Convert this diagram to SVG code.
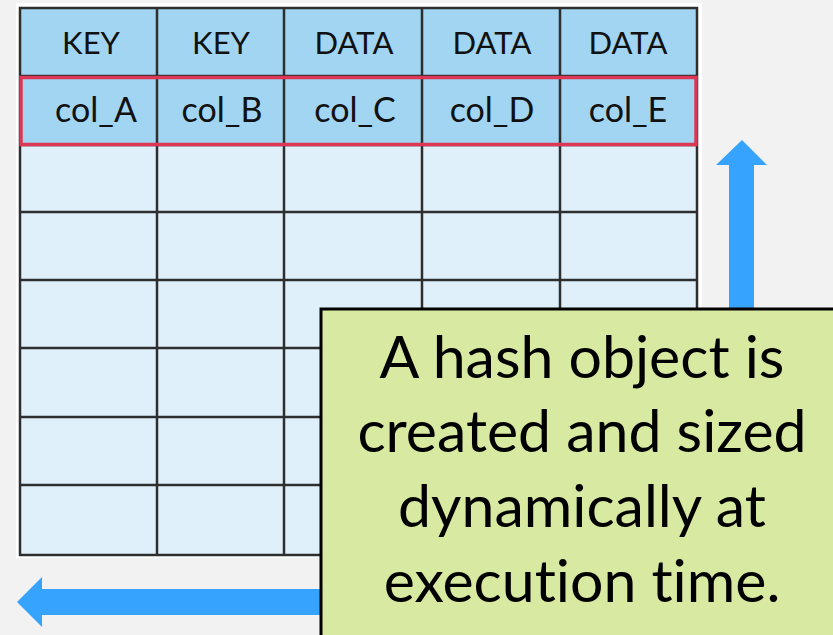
<svg xmlns="http://www.w3.org/2000/svg" width="833" height="635" viewBox="0 0 833 635">
<style>
.grid{stroke:#2e2e2e;stroke-width:2.5;fill:none}
.hd{fill:#a1d5f1}
.bd{fill:#dff0fa}
.t{font-family:Lato,"Liberation Sans",sans-serif;font-size:31px;fill:#111;text-anchor:middle;font-variant-ligatures:none}
.c{font-size:34px}
.n{font-family:Lato,"Liberation Sans",sans-serif;font-size:59px;fill:#000;text-anchor:middle;font-variant-ligatures:none}
.arr{fill:#36a3ff}
</style>
<rect width="833" height="635" fill="#f2f2f2"/>
<rect x="16" y="3" width="686" height="555" fill="#fff"/>
<g id="connectors">
<polygon class="arr" points="742,140 767,165 754,165 754,320 729,320 729,165 716,165"/>
<polygon class="arr" points="17,602 42,577 42,589 330,589 330,615 42,615 42,627"/>
</g>
<g id="table">
<rect class="hd" x="20" y="8" width="677" height="137"/>
<rect class="bd" x="20" y="145" width="677" height="410"/>
<path class="grid" d="M20,8H697V555H20Z M20,76H697 M20,145H697 M20,212H697 M20,280H697 M20,348H697 M20,417H697 M20,485H697 M157,8V555 M284,8V555 M422,8V555 M560,8V555"/>
<rect x="21" y="77.5" width="675" height="67" fill="none" stroke="#dc3755" stroke-width="3.5"/>
<text class="t" x="91" y="54">KEY</text>
<text class="t" x="221" y="54">KEY</text>
<text class="t" x="354" y="54">DATA</text>
<text class="t" x="492" y="54">DATA</text>
<text class="t" x="628" y="54">DATA</text>
<text class="t c" x="96" y="122">col_A</text>
<text class="t c" x="222" y="122">col_B</text>
<text class="t c" x="355" y="122">col_C</text>
<text class="t c" x="492" y="122">col_D</text>
<text class="t c" x="628" y="122">col_E</text>
</g>
<g id="note">
<rect x="321" y="309" width="520" height="340" fill="#d8e9a1" stroke="#000" stroke-width="3"/>
<text class="n" x="582" y="378">A hash object is</text>
<text class="n" x="582" y="452">created and sized</text>
<text class="n" x="582" y="527">dynamically at</text>
<text class="n" x="582" y="602">execution time.</text>
</g>
</svg>
